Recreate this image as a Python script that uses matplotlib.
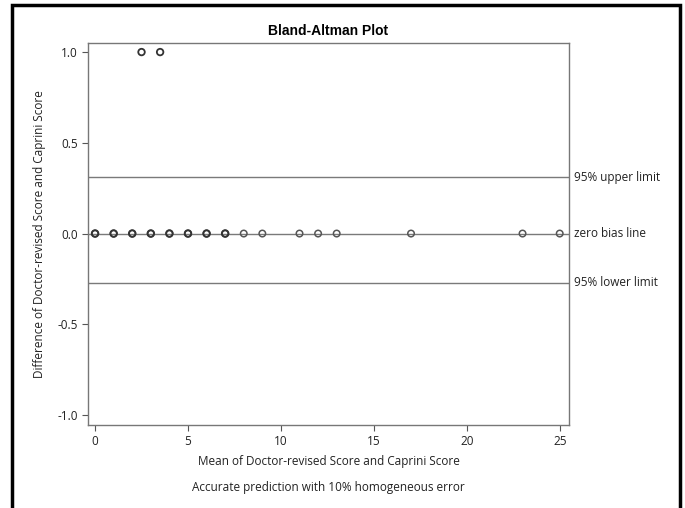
import matplotlib.pyplot as plt
from matplotlib.patches import Rectangle

plt.rcParams['font.family'] = ['Open Sans', 'DejaVu Sans']

# points on the zero line (mean score)
mean_zero = [0, 1, 2, 3, 4, 5, 6, 7, 8, 9, 11, 12, 13, 17, 23, 25]
# duplicated points drawn twice (darker)
mean_zero_dup = [0, 1, 2, 3, 4, 5, 6, 7]
# points with difference 1
mean_one = [2.5, 3.5]
diff_one = [1.0, 1.0]

upper_limit = 0.31
lower_limit = -0.27
ref_lines = [upper_limit, 0.0, lower_limit]
ref_labels = ['95% upper limit', 'zero bias line', '95% lower limit']

xticks = [0, 5, 10, 15, 20, 25]
yticks = [-1.0, -0.5, 0.0, 0.5, 1.0]

W, H = 685, 508
fig = plt.figure(figsize=(W / 100, H / 100), dpi=100)
ax = fig.add_axes([88 / W, 1 - 425 / H, (569 - 88) / W, (425 - 43) / H])

gray = '#555555'
for y in ref_lines:
    ax.axhline(y, color='#7a7a7a', lw=1.0, zorder=1)

ax.scatter(mean_zero, [0.0] * len(mean_zero), s=22, facecolors='none',
           edgecolors='#555555', linewidths=1.1, zorder=3)
ax.scatter(mean_zero_dup, [0.0] * len(mean_zero_dup), s=22, facecolors='none',
           edgecolors='#333333', linewidths=1.4, zorder=3)
ax.scatter(mean_one, diff_one, s=22, facecolors='none',
           edgecolors='#333333', linewidths=1.3, zorder=3)

ax.set_xlim(-0.38, 25.5)
ax.set_ylim(-1.055, 1.05)
ax.set_xticks(xticks)
ax.set_yticks(yticks)
ax.set_yticklabels(['%.1f' % v for v in yticks])
ax.tick_params(labelsize=8.5, color=gray, labelcolor='#222222', length=4, width=0.8)
for s in ax.spines.values():
    s.set_color('#777777')
    s.set_linewidth(1.0)

for y, lab in zip(ref_lines, ref_labels):
    ax.text(1.01, y, lab, transform=ax.get_yaxis_transform(), va='center',
            ha='left', fontsize=8.5, color='#222222')

ax.set_xlabel('Mean of Doctor-revised Score and Caprini Score', fontsize=8.5,
              color='#222222', labelpad=5)
ax.set_ylabel('Difference of Doctor-revised Score and Caprini Score', fontsize=8.5,
              color='#222222', labelpad=8)
ax.set_title('Bland-Altman Plot', fontsize=10, fontweight='bold', pad=6,
             family=['Liberation Sans', 'DejaVu Sans'])
fig.text((88 + 569) / 2 / W, 1 - 488 / H,
         'Accurate prediction with 10% homogeneous error',
         ha='center', va='center', fontsize=8.5, color='#222222')

# outer frame (bottom edge is off the image)
fig.patches.append(Rectangle((12 / W, -0.05), (680 - 12) / W, 1 - 5 / H + 0.05,
                             transform=fig.transFigure, fill=False,
                             edgecolor='black', linewidth=2.5))

fig.savefig('out.png', dpi=100)
